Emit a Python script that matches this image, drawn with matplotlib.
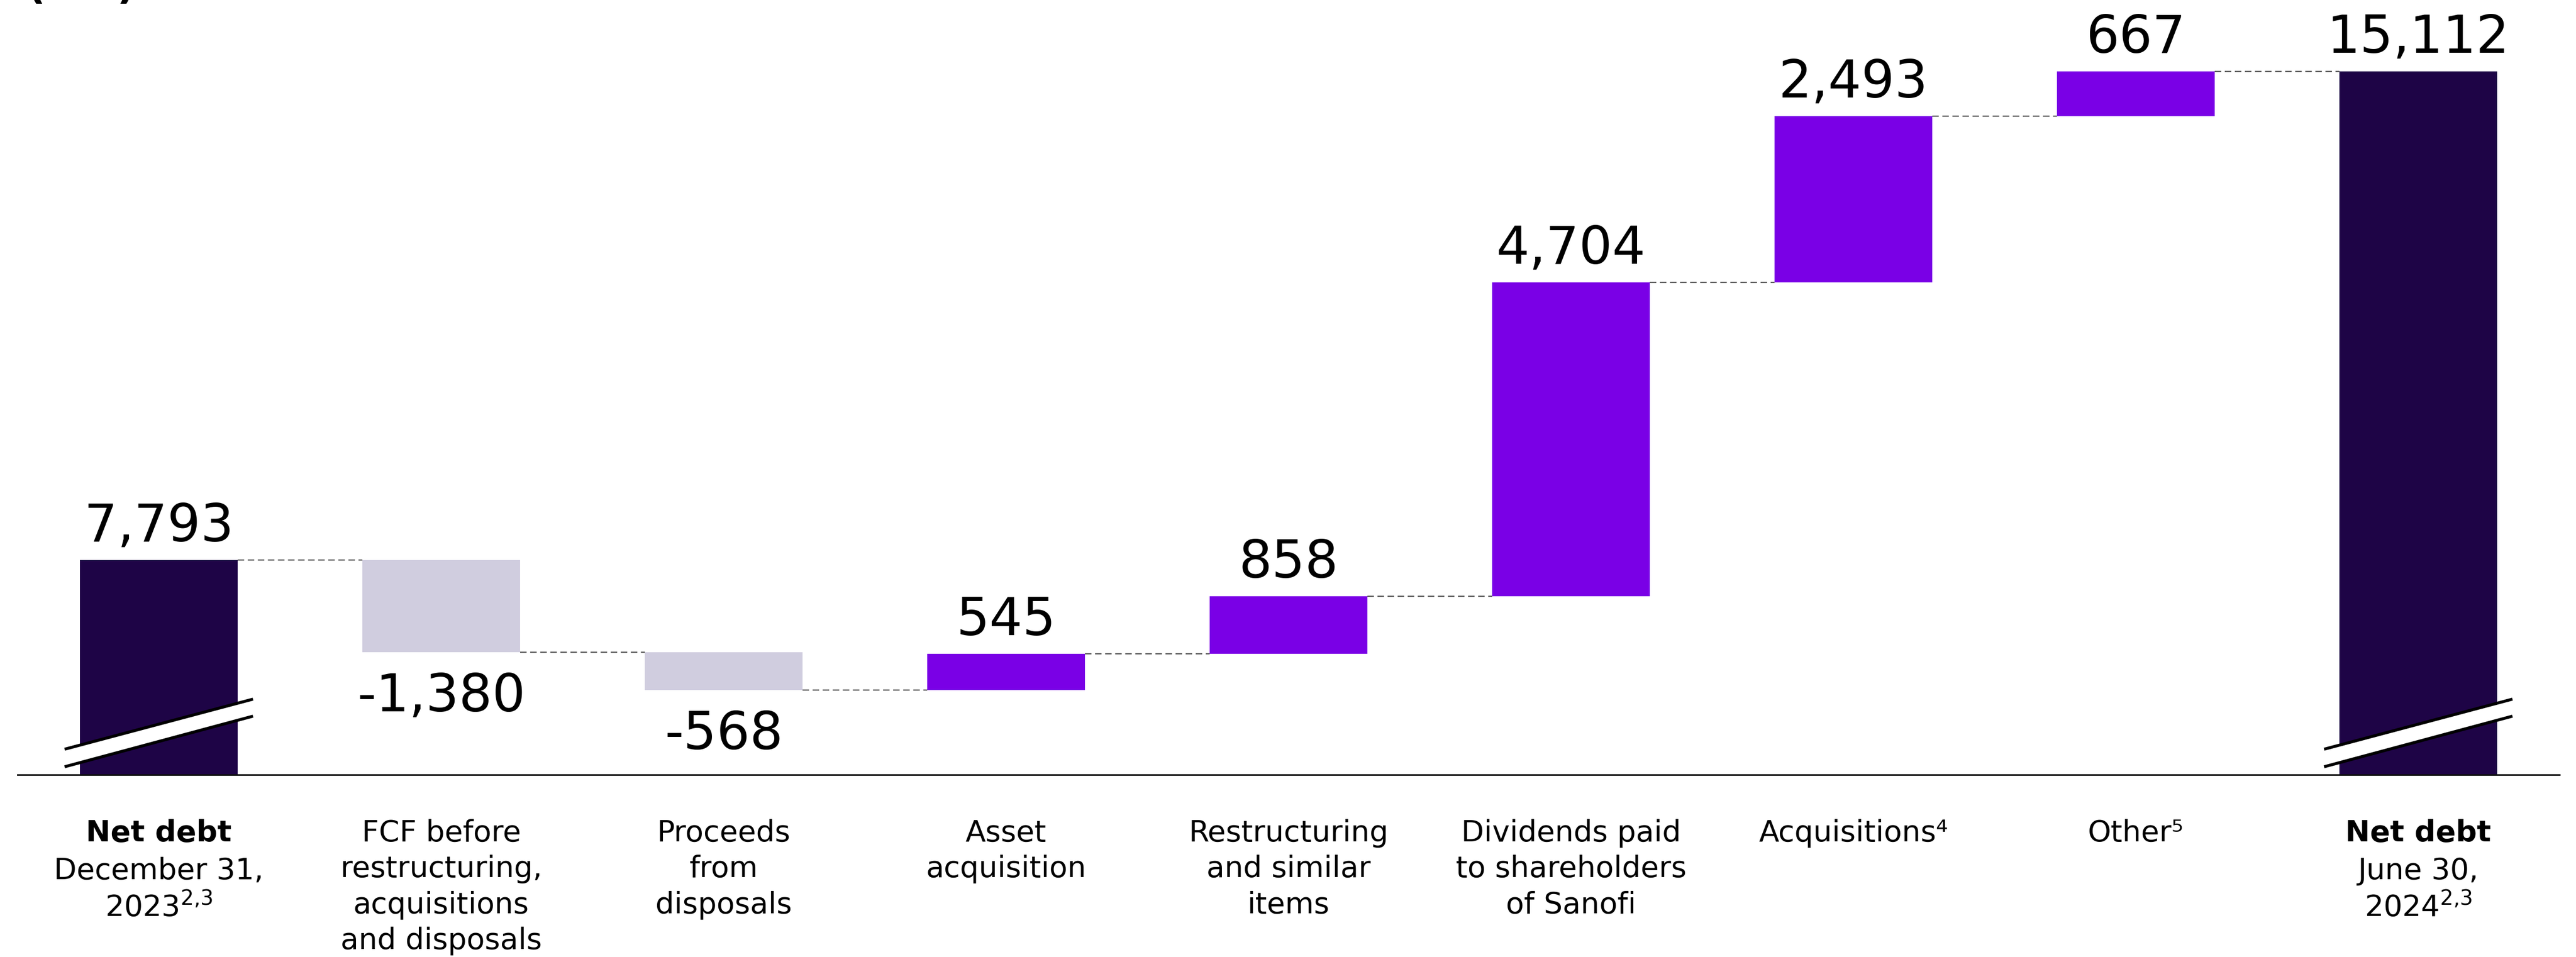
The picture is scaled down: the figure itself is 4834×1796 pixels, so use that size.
import numpy as np
import matplotlib
matplotlib.use("Agg")
from matplotlib import pyplot as plt

plt.rcParams['font.family'] = ['DejaVu Sans']
plt.rcParams['mathtext.default'] = 'regular'

# net debt bridge, in EUR m
start_debt = 7793
end_debt = 15112
steps = [-1380, -568, 545, 858, 4704, 2493, 667]
step_labels = ["FCF before\nrestructuring,\nacquisitions\nand disposals",
               "Proceeds\nfrom\ndisposals",
               "Asset\nacquisition",
               "Restructuring\nand similar\nitems",
               "Dividends paid\nto shareholders\nof Sanofi",
               "Acquisitions\u2074",
               "Other\u2075"]
start_date = "December 31,\n2023$^{2{,}3}$"
end_date = "June 30,\n2024$^{2{,}3}$"

TOTAL_COL = "#1e0446"
UP_COL = "#7a00e6"
DOWN_COL = "#d0cddf"

floor = 4577          # value where the broken y axis starts
w = 0.557

fig = plt.figure(figsize=(24.17, 8.98), dpi=200)
ax = fig.add_axes([0, 0, 1, 1])
ax.set_xlim(-0.5623, 8.5585)
ax.set_ylim(1848, 16181)
ax.axis('off')

n = len(steps) + 2
x = np.arange(n)

# running totals
levels = [start_debt]
for s in steps:
    levels.append(levels[-1] + s)

# totals
ax.bar(x[0], start_debt - floor, bottom=floor, width=w, color=TOTAL_COL)
ax.bar(x[-1], end_debt - floor, bottom=floor, width=w, color=TOTAL_COL)

# steps
for i, s in enumerate(steps):
    lo = min(levels[i], levels[i + 1])
    col = UP_COL if s > 0 else DOWN_COL
    ax.bar(x[i + 1], abs(s), bottom=lo, width=w, color=col)

# dashed connectors
for i in range(n - 1):
    lvl = levels[i] if i < len(levels) else end_debt
    ax.plot([x[i] + w / 2, x[i + 1] - w / 2], [lvl, lvl], ls=(0, (5.5, 3)),
            color="#555555", lw=0.8, zorder=1)

# baseline
ax.plot([-0.5, 8.5], [floor, floor], color="#111111", lw=1.1, zorder=4)

# break marks on the two total bars
for xi in (x[0], x[-1]):
    x0 = xi - w / 2 - 0.055
    x1 = xi + w / 2 + 0.055
    lo0, lo1 = floor + 120, floor + 878
    hi0, hi1 = floor + 383, floor + 1133
    ax.fill([x0, x1, x1, x0], [lo0, lo1, hi1, hi0], color="white", zorder=5)
    ax.plot([x0, x1], [lo0, lo1], color="black", lw=2, zorder=6,
            solid_capstyle='butt')
    ax.plot([x0, x1], [hi0, hi1], color="black", lw=2, zorder=6,
            solid_capstyle='butt')

# value labels
val_fs = 35.3
ax.annotate(f"{start_debt:,}", (x[0], start_debt), xytext=(0, 12.6),
            textcoords='offset points', ha='center', va='baseline',
            fontsize=val_fs)
ax.annotate(f"{end_debt:,}", (x[-1], end_debt), xytext=(0, 12.6),
            textcoords='offset points', ha='center', va='baseline',
            fontsize=val_fs)
for i, s in enumerate(steps):
    if s > 0:
        ax.annotate(f"{s:,}", (x[i + 1], levels[i + 1]), xytext=(0, 12.6),
                    textcoords='offset points', ha='center', va='baseline',
                    fontsize=val_fs)
    else:
        ax.annotate(f"{s:,}", (x[i + 1], levels[i + 1]), xytext=(0, -40),
                    textcoords='offset points', ha='center', va='baseline',
                    fontsize=val_fs)

# category labels
cat_fs = 20
label_top = floor - 660
line_h = 565
for xi, date in ((x[0], start_date), (x[-1], end_date)):
    ax.text(xi, label_top, "Net debt", ha='center', va='top',
            fontsize=cat_fs, fontweight='bold')
    ax.text(xi, label_top - line_h, date, ha='center', va='top',
            fontsize=cat_fs, linespacing=1.32)
for i, lab in enumerate(step_labels):
    ax.text(x[i + 1], label_top, lab, ha='center', va='top',
            fontsize=cat_fs, linespacing=1.32)

# unit, partly cut off at the top edge
fig.text(0.0103, 1 + 3 / 1796, "(€m)", ha='left', va='baseline',
         fontsize=28, fontweight='bold')

fig.savefig("out.png", dpi=200)
